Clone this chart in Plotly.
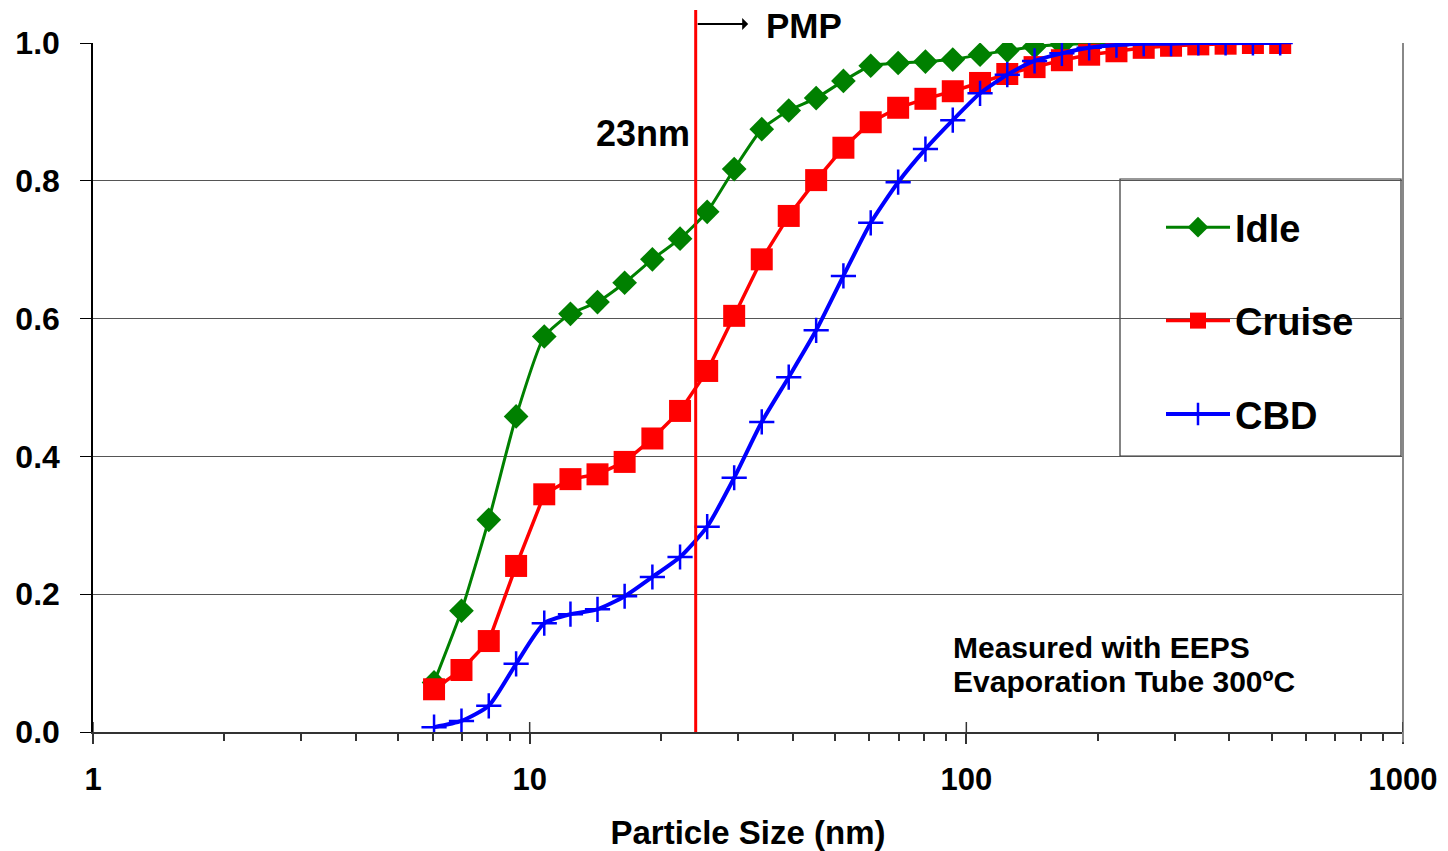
import math
import plotly.graph_objects as go

# ---- data ----
sizes_nm = [6.04, 6.98, 8.06, 9.31, 10.8, 12.4, 14.3, 16.5, 19.1, 22.1, 25.5, 29.4,
            34.0, 39.2, 45.3, 52.3, 60.4, 69.8, 80.6, 93.1, 107.5, 124.1, 143.3,
            165.5, 191.1, 220.7, 254.8, 294.3, 339.8, 392.4, 453.2, 523.3]

idle = [0.072, 0.176, 0.308, 0.458, 0.574, 0.607, 0.624, 0.652, 0.686, 0.716, 0.755,
        0.817, 0.875, 0.902, 0.920, 0.945, 0.967, 0.971, 0.973, 0.976, 0.983, 0.989,
        0.995, 0.998, 0.999, 1.0, 1.0]

cruise = [0.062, 0.090, 0.132, 0.241, 0.345, 0.367, 0.374, 0.392, 0.426, 0.466, 0.524,
          0.604, 0.686, 0.749, 0.801, 0.848, 0.885, 0.906, 0.919, 0.930, 0.942, 0.955,
          0.965, 0.975, 0.983, 0.988, 0.993, 0.996, 0.998, 0.999, 1.0, 1.0]

cbd = [0.007, 0.016, 0.038, 0.099, 0.158, 0.171, 0.178, 0.197, 0.225, 0.254, 0.298,
       0.369, 0.450, 0.515, 0.583, 0.662, 0.739, 0.798, 0.846, 0.888, 0.927, 0.954,
       0.974, 0.985, 0.993, 0.997, 0.999, 0.999, 1.0, 1.0, 1.0, 1.0]

series_names = ["Idle", "Cruise", "CBD"]
x_tick_vals = [1, 10, 100, 1000]
x_tick_text = ["1", "10", "100", "1000"]
y_tick_vals = [0.0, 0.2, 0.4, 0.6, 0.8, 1.0]

pmp_cut_nm = 24          # position of the 23nm cut line as drawn
pmp_cut_label = "23nm"
note_lines = ["Measured with EEPS", "Evaporation Tube 300ºC"]

FONT = "Liberation Sans"

# plot-area geometry in page pixels
PX_L, PX_R, PX_T, PX_B = 93, 1403, 43, 732
PW, PH = PX_R - PX_L, PX_B - PX_T


def px_x(p):
    return (p - PX_L) / PW


def px_y(p):
    return (PX_B - p) / PH


fig = go.Figure()

fig.add_trace(go.Scatter(
    x=sizes_nm[:len(idle)], y=idle, name=series_names[0], legendgroup="g1",
    mode="lines+markers",
    line=dict(color="#008000", width=3, shape="spline", smoothing=0.5),
    marker=dict(symbol="diamond", size=19, color="#008000"),
))
fig.add_trace(go.Scatter(
    x=sizes_nm[:len(cruise)], y=cruise, name=series_names[1], legendgroup="g2",
    mode="lines+markers",
    line=dict(color="#FF0000", width=3.5),
    marker=dict(symbol="square", size=22, color="#FF0000"),
))
fig.add_trace(go.Scatter(
    x=sizes_nm[:len(cbd)], y=cbd, name=series_names[2], legendgroup="g3",
    mode="lines+markers",
    line=dict(color="#0000FF", width=4, shape="spline", smoothing=0.6),
    marker=dict(symbol="cross-thin", size=18, color="#0000FF",
                line=dict(color="#0000FF", width=2.5)),
))

# legend box
fig.add_shape(type="rect", xref="paper", yref="paper",
              x0=px_x(1120), x1=px_x(1401), y0=px_y(456), y1=px_y(179),
              line=dict(color="#333333", width=1.2), fillcolor="white", layer="between")

# right plot border (grey)
fig.add_shape(type="line", xref="paper", yref="paper", x0=1, x1=1, y0=-0.015, y1=1,
              line=dict(color="#888888", width=2), layer="above")

# major x ticks also cross above the axis
for tv in x_tick_vals:
    fig.add_shape(type="line", xref="x", yref="paper", x0=tv, x1=tv,
                  y0=0, y1=10 / PH, line=dict(color="#333333", width=1.5), layer="above")

# vertical cut line
fig.add_shape(type="line", xref="x", yref="paper", x0=pmp_cut_nm, x1=pmp_cut_nm,
              y0=0, y1=px_y(10),
              line=dict(color="#FF0000", width=3), layer="above")

lc = math.log10(pmp_cut_nm)
fig.add_annotation(xref="x", yref="paper", x=lc, y=px_y(133),
                   text=pmp_cut_label, showarrow=False, xanchor="right", yanchor="middle",
                   xshift=-4, font=dict(family=FONT, size=36, weight="bold", color="black"))
fig.add_annotation(xref="x", yref="paper", x=lc, y=px_y(24),
                   text="", showarrow=True, ax=52, ay=0, axref="pixel", ayref="pixel",
                   arrowhead=2, arrowsize=1.5, arrowwidth=2, arrowcolor="black",
                   arrowside="start", xshift=2)
fig.add_annotation(xref="x", yref="paper", x=lc, y=px_y(26),
                   text="PMP", showarrow=False, xanchor="left", yanchor="middle",
                   xshift=68, font=dict(family=FONT, size=35, weight="bold", color="black"))

for line_text, ypx in zip(note_lines, [647, 681]):
    fig.add_annotation(xref="paper", yref="paper", x=px_x(951), y=px_y(ypx),
                       text=line_text, showarrow=False, xanchor="left",
                       yanchor="middle", align="left",
                       font=dict(family=FONT, size=30, weight="bold", color="black"))

fig.update_layout(
    width=1448, height=851,
    margin=dict(l=PX_L, r=1448 - PX_R, t=PX_T, b=851 - PX_B, autoexpand=False),
    paper_bgcolor="white", plot_bgcolor="white",
    font=dict(family=FONT, color="black"),
    showlegend=True,
    legend=dict(x=px_x(1161), y=px_y(196), xanchor="left", yanchor="top",
                bgcolor="rgba(0,0,0,0)", borderwidth=0, tracegroupgap=41,
                font=dict(family=FONT, size=38, weight="bold", color="black"),
                itemwidth=64),
    xaxis=dict(type="log", range=[0, 3], tickvals=x_tick_vals, ticktext=x_tick_text,
               automargin=False,
               showgrid=False, zeroline=False, showline=True, linecolor="#333333",
               linewidth=2, ticks="outside", ticklen=10, tickcolor="#333333",
               tickwidth=1.5, ticklabelstandoff=9,
               minor=dict(ticks="outside", ticklen=7, tickcolor="#333333", dtick="D1",
                          showgrid=False),
               tickfont=dict(family=FONT, size=31, weight="bold", color="black"),
               title=dict(text="Particle Size (nm)", standoff=26,
                          font=dict(family=FONT, size=33, weight="bold", color="black"))),
    yaxis=dict(range=[0, 1], tickvals=y_tick_vals, tickformat=".1f",
               automargin=False,
               showgrid=True, gridcolor="#555555", gridwidth=1.2, zeroline=False,
               showline=True, linecolor="black", linewidth=1.5,
               ticks="outside", ticklen=11, tickcolor="black",
               ticklabelstandoff=14,
               tickfont=dict(family=FONT, size=32, weight="bold", color="black")),
)

fig.write_html("out.html", config={"displayModeBar": False},
               post_script="document.body.style.margin='0';document.body.style.overflow='hidden';")
